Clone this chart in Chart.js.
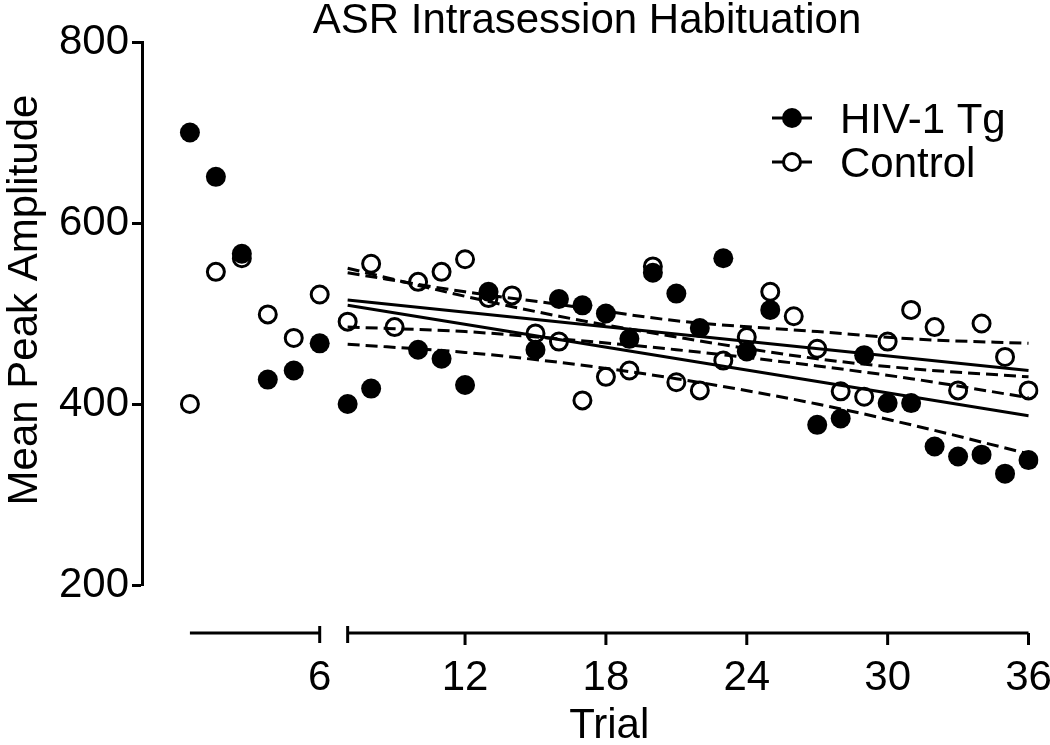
<!DOCTYPE html>
<html>
<head>
<meta charset="utf-8">
<script src="https://cdn.jsdelivr.net/npm/chart.js@4.4.0/dist/chart.umd.min.js"></script>
<style>
  html, body { margin: 0; padding: 0; background: #fff; }
  canvas { display: block; }
</style>
</head>
<body>
<canvas id="chart" width="1050" height="745"></canvas>
<script>
// trial-by-trial means (null = no marker drawn)
const trials = [1, 2, 3, 4, 5, 6, 7, 8, 9, 10, 11, 12, 13, 14, 15, 16, 17, 18,
  19, 20, 21, 22, 23, 24, 25, 26, 27, 28, 29, 30, 31, 32, 33, 34, 35, 36];
const hivTg = [700, 651, 566, 427, 437, 467, 400, 417, null, 460, 450, 421,
  524, null, 460, 516, 509, 500, 472, 545, 522, 484, 561, 458, 504, null,
  377, 384, 454, 401, 401, 353, 342, 344, 323, 338];
const control = [400, 546, 561, 499, 473, 521, 491, 555, 485, 535, 546, 560,
  517, 520, 478, 469, 404, 430, 437, 552, 424, 415, 448, 474, 524, 497,
  461, 414, 408, 469, 504, 485, 415, 489, 452, 415];

// regression lines (trials 7-36) and their 95% bands
const fitTrials = [7, 36];
const hivFit = [509, 387];
const controlFit = [515, 437];
const bandTrials = [7, 12, 16, 21, 27, 31, 36];
const hivUpper = [550, 519, 497, 474, 450, 439, 430];
const hivLower = [466, 457, 446, 428, 400, 377, 345];
const controlUpper = [545, 524, 510, 492, 480, 472, 467];
const controlLower = [485, 480, 472, 460, 442, 428, 407];

const yTicks = [200, 400, 600, 800];
const xTicksEarly = [6];
const xTicksLate = [12, 18, 24, 30, 36];
const breakAfter = 6;

const FONT = '"Liberation Sans", Arial, Helvetica, sans-serif';
const FONT_SIZE = 42;
Chart.defaults.font.family = FONT;
Chart.defaults.color = '#000';

// the x axis is broken in two pieces, each with its own scale
const AREA_L = 142, AREA_R = 1040;
function axisRange(v0, p0, v1, p1) {
  const k = (v1 - v0) / (p1 - p0);
  return { min: v0 - (p0 - AREA_L) * k, max: v1 + (AREA_R - p1) * k };
}
const earlyRange = axisRange(1, 190, 6, 320);
const lateRange = axisRange(7, 348, 36, 1030);

function points(xs, ys, from, to) {
  const out = [];
  xs.forEach((x, i) => {
    if (x >= from && x <= to && ys[i] != null) out.push({ x: x, y: ys[i] });
  });
  return out;
}
const last = trials[trials.length - 1];

function lineSet(label, ys, xs, dashed) {
  return {
    label: label,
    data: xs.map((x, i) => ({ x: x, y: ys[i] })),
    xAxisID: 'xb',
    showLine: true,
    borderColor: '#000',
    borderWidth: 3,
    borderDash: dashed ? [12, 6] : [],
    cubicInterpolationMode: 'monotone',
    pointRadius: 0,
    fill: false
  };
}

function dotSet(label, ys, from, to, axis, open) {
  return {
    label: label,
    data: points(trials, ys, from, to),
    xAxisID: axis,
    showLine: false,
    pointRadius: open ? 8.5 : 10,
    pointBorderWidth: open ? 3 : 0,
    pointBackgroundColor: open ? 'rgba(0,0,0,0)' : '#000',
    pointBorderColor: '#000'
  };
}

const brokenAxis = {
  id: 'brokenAxis',
  afterDraw(chart) {
    const { ctx, chartArea, scales } = chart;
    const xa = v => scales.xa.getPixelForValue(v);
    const xb = v => scales.xb.getPixelForValue(v);
    const axisY = chartArea.bottom + 48;

    ctx.save();
    ctx.strokeStyle = '#000';
    ctx.fillStyle = '#000';
    ctx.lineWidth = 3;
    const seg = (x1, y1, x2, y2) => {
      ctx.beginPath(); ctx.moveTo(x1, y1); ctx.lineTo(x2, y2); ctx.stroke();
    };

    seg(xa(1), axisY, xa(breakAfter), axisY);
    seg(xb(breakAfter + 1), axisY, xb(last), axisY);
    seg(xa(breakAfter), axisY - 7, xa(breakAfter), axisY + 10);
    seg(xb(breakAfter + 1), axisY - 7, xb(breakAfter + 1), axisY + 10);
    xTicksLate.forEach(v => seg(xb(v), axisY, xb(v), axisY + 12));

    ctx.font = FONT_SIZE + 'px ' + FONT;
    ctx.textAlign = 'center';
    ctx.textBaseline = 'alphabetic';
    xTicksEarly.forEach(v => ctx.fillText(String(v), xa(v), axisY + 57));
    xTicksLate.forEach(v => ctx.fillText(String(v), xb(v), axisY + 57));
    ctx.fillText('Trial', (xa(1) + xb(last)) / 2, 738);

    // title
    ctx.fillText('ASR Intrasession Habituation', 587, 33);

    // y axis title
    ctx.save();
    ctx.translate(37, 300);
    ctx.rotate(-Math.PI / 2);
    ctx.fillText('Mean Peak Amplitude', 0, 0);
    ctx.restore();

    // legend
    ctx.textAlign = 'left';
    const rows = [
      { text: 'HIV-1 Tg', y: 118, open: false },
      { text: 'Control', y: 162, open: true }
    ];
    rows.forEach(r => {
      seg(772, r.y, 812, r.y);
      ctx.beginPath();
      if (r.open) {
        ctx.arc(792, r.y, 8.5, 0, Math.PI * 2);
        ctx.fillStyle = '#fff';
        ctx.fill();
        ctx.stroke();
        ctx.fillStyle = '#000';
      } else {
        ctx.arc(792, r.y, 10, 0, Math.PI * 2);
        ctx.fill();
      }
      ctx.fillText(r.text, 840, r.y + 15);
    });
    ctx.restore();
  }
};

new Chart(document.getElementById('chart'), {
  type: 'scatter',
  data: {
    datasets: [
      lineSet('HIV-1 Tg fit', hivFit, fitTrials, false),
      lineSet('Control fit', controlFit, fitTrials, false),
      lineSet('HIV-1 Tg upper', hivUpper, bandTrials, true),
      lineSet('HIV-1 Tg lower', hivLower, bandTrials, true),
      lineSet('Control upper', controlUpper, bandTrials, true),
      lineSet('Control lower', controlLower, bandTrials, true),
      dotSet('HIV-1 Tg', hivTg, breakAfter + 1, last, 'xb', false),
      dotSet('HIV-1 Tg', hivTg, 1, breakAfter, 'xa', false),
      dotSet('Control', control, breakAfter + 1, last, 'xb', true),
      dotSet('Control', control, 1, breakAfter, 'xa', true)
    ]
  },
  options: {
    responsive: false,
    animation: false,
    devicePixelRatio: 1,
    events: [],
    layout: { padding: { top: 42, right: 1050 - AREA_R, bottom: 160, left: 0 } },
    plugins: { legend: { display: false }, tooltip: { enabled: false } },
    scales: {
      xa: {
        type: 'linear', position: 'bottom', display: false,
        min: earlyRange.min, max: earlyRange.max
      },
      xb: {
        type: 'linear', position: 'bottom', display: false,
        min: lateRange.min, max: lateRange.max
      },
      y: {
        type: 'linear', position: 'left',
        min: 200, max: 800,
        afterBuildTicks: s => { s.ticks = yTicks.map(v => ({ value: v })); },
        afterFit: s => { s.width = AREA_L; },
        ticks: { font: { size: FONT_SIZE }, color: '#000', padding: 3 },
        grid: {
          drawOnChartArea: false, drawTicks: true,
          tickLength: 10, tickWidth: 3, tickColor: '#000'
        },
        border: { display: true, color: '#000', width: 3 }
      }
    }
  },
  plugins: [brokenAxis]
});
</script>
</body>
</html>
